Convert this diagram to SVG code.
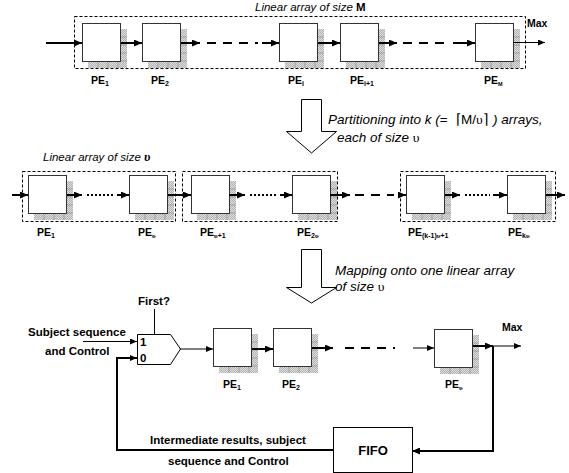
<svg xmlns="http://www.w3.org/2000/svg" xmlns:xlink="http://www.w3.org/1999/xlink" width="569" height="473" viewBox="0 0 569 473">
<style>
text{font-family:"Liberation Sans",Arial,sans-serif;fill:#000}
.lbl{font-weight:bold;font-size:10.5px}
.sub{font-size:7px}
.b{font-weight:bold;font-size:11.5px}
.it{font-style:italic;font-size:13.5px}
.ti{font-style:italic;font-size:11.5px}
.ups{font-family:"Liberation Serif","DejaVu Serif",serif}
.cont{fill:none;stroke:#000;stroke-width:1;stroke-dasharray:3,2}
.th{fill:none;stroke:#000;stroke-width:2}
.tn{fill:none;stroke:#000;stroke-width:1}
.dash{fill:none;stroke:#000;stroke-width:2;stroke-dasharray:9,7}
.dot{fill:none;stroke:#000;stroke-width:2;stroke-dasharray:2,2}
.a{marker-end:url(#ah)}
.as{marker-end:url(#ahs)}
.big{fill:#fff;stroke:#000;stroke-width:1}
</style>
<defs>
<pattern id="dots" width="2" height="2" patternUnits="userSpaceOnUse">
<rect width="2" height="2" fill="#dedede"/>
<rect width="1" height="1" fill="#b2b2b2"/>
<rect x="1" y="1" width="1" height="1" fill="#b2b2b2"/>
</pattern>
<marker id="ah" markerUnits="userSpaceOnUse" markerWidth="8" markerHeight="7" refX="8" refY="3.5" orient="auto">
<path d="M0,0 L8,3.5 L0,7 z" fill="#000"/>
</marker>
<marker id="ahs" markerUnits="userSpaceOnUse" markerWidth="7" markerHeight="6" refX="7" refY="3" orient="auto">
<path d="M0,0 L7,3 L0,6 z" fill="#000"/>
</marker>
<g id="pe">
<path d="M39,6 h6 v39 h-39 v-6 h33 z" fill="url(#dots)"/>
<path d="M39,14h6M39,22h6M39,30h6M39,38h6M16,39v6M26,39v6M36,39v6" stroke="#a0a0a0" stroke-width="1"/>
<rect x="0.5" y="0.5" width="38" height="38" fill="#fff" stroke="#333" stroke-width="1"/>
</g>
</defs>

<!-- Row 1 -->
<g id="row1-title"><text class="ti" x="255" y="11">Linear array of size <tspan font-weight="bold" font-style="normal">M</tspan></text></g>
<g id="row1-container"><rect class="cont" x="74.5" y="16.5" width="451" height="52"/></g>
<g id="r1-pe1"><use xlink:href="#pe" x="82" y="23"/><text class="lbl" x="91" y="84">PE<tspan class="sub" dy="2">1</tspan></text></g>
<g id="r1-pe2"><use xlink:href="#pe" x="142" y="23"/><text class="lbl" x="151" y="84">PE<tspan class="sub" dy="2">2</tspan></text></g>
<g id="r1-pei"><use xlink:href="#pe" x="279" y="23"/><text class="lbl" x="288" y="84">PE<tspan class="sub" dy="2">i</tspan></text></g>
<g id="r1-pei1"><use xlink:href="#pe" x="340" y="23"/><text class="lbl" x="350" y="84">PE<tspan class="sub" dy="2">i+1</tspan></text></g>
<g id="r1-pem"><use xlink:href="#pe" x="475" y="23"/><text class="lbl" x="484" y="84">PE<tspan font-size="5.5px" dy="2">M</tspan></text></g>
<g id="r1-max"><text class="lbl" x="527" y="27" font-size="11px">Max</text></g>

<!-- Row 2 -->
<g id="row2-title"><text class="ti" x="43" y="161" font-size="12px">Linear array of size <tspan class="ups" font-weight="bold" font-size="13px">υ</tspan></text></g>
<g id="row2-containers">
<rect class="cont" x="22.5" y="171.5" width="153" height="50"/>
<rect class="cont" x="182.5" y="171.5" width="155" height="50"/>
<rect class="cont" x="400.5" y="171.5" width="155" height="50"/>
</g>
<g id="r2-pe1"><use xlink:href="#pe" x="28" y="175"/><text class="lbl" x="37" y="236">PE<tspan class="sub" dy="2">1</tspan></text></g>
<g id="r2-peu"><use xlink:href="#pe" x="129" y="175"/><text class="lbl" x="138" y="236">PE<tspan class="sub ups" dy="2" font-weight="bold">υ</tspan></text></g>
<g id="r2-peu1"><use xlink:href="#pe" x="191" y="175"/><text class="lbl" x="200" y="236">PE<tspan class="sub" dy="2"><tspan class="ups">υ</tspan>+1</tspan></text></g>
<g id="r2-pe2u"><use xlink:href="#pe" x="292" y="175"/><text class="lbl" x="297" y="236">PE<tspan class="sub" dy="2">2<tspan class="ups">υ</tspan></tspan></text></g>
<g id="r2-pek1"><use xlink:href="#pe" x="406" y="175"/><text class="lbl" x="408" y="236">PE<tspan class="sub" dy="2">(k-1)<tspan class="ups">υ</tspan>+1</tspan></text></g>
<g id="r2-peku"><use xlink:href="#pe" x="507" y="175"/><text class="lbl" x="508" y="236">PE<tspan class="sub" dy="2">k<tspan class="ups">υ</tspan></tspan></text></g>

<!-- Big arrows and notes -->
<g id="arrow1"><path class="big" d="M301.5,99.5 H321.5 V131.5 H336.5 L311.5,153 L286.5,131.5 H301.5 Z"/></g>
<g id="note1">
<text class="it" x="328" y="124">Partitioning into <tspan>k</tspan> (<tspan font-style="normal">=</tspan><tspan x="456" font-style="normal">⌈M/<tspan class="ups">υ</tspan>⌉</tspan><tspan x="493">) arrays,</tspan></text>
<text class="it" x="337" y="142">each of size <tspan class="ups" font-style="normal">υ</tspan></text>
</g>
<g id="arrow2"><path class="big" d="M301.5,249.5 H321.5 V287.5 H336.5 L311.5,303 L286.5,287.5 H301.5 Z"/></g>
<g id="note2">
<text class="it" x="335" y="275">Mapping onto one linear array</text>
<text class="it" x="335" y="291">of size <tspan class="ups" font-style="normal">υ</tspan></text>
</g>

<!-- Row 3 -->
<g id="first-label"><text class="b" x="138" y="305">First?</text></g>
<g id="mux">
<polygon points="137.5,334.5 170.5,334.5 180.5,349 170.5,364.5 137.5,364.5" fill="#fff" stroke="#000" stroke-width="1"/>
<text class="b" x="140" y="346">1</text>
<text class="b" x="140" y="362">0</text>
</g>
<g id="input-label">
<text class="b" x="28" y="336">Subject sequence</text>
<text class="b" x="45" y="355">and Control</text>
</g>
<g id="r3-pe1"><use xlink:href="#pe" x="213" y="328"/><text class="lbl" x="223" y="388">PE<tspan class="sub" dy="2">1</tspan></text></g>
<g id="r3-pe2"><use xlink:href="#pe" x="273" y="328"/><text class="lbl" x="282" y="388">PE<tspan class="sub" dy="2">2</tspan></text></g>
<g id="r3-peu"><use xlink:href="#pe" x="434" y="329"/><text class="lbl" x="445" y="388">PE<tspan class="sub ups" dy="2">υ</tspan></text></g>
<g id="r3-max"><text class="lbl" x="502" y="331" font-size="11px">Max</text></g>
<g id="fifo">
<rect x="333.5" y="427.5" width="79" height="45" fill="#fff" stroke="#000" stroke-width="1"/>
<text x="373" y="455" font-weight="bold" font-size="13px" text-anchor="middle">FIFO</text>
</g>
<g id="feedback-label">
<text class="b" x="150" y="444">Intermediate results, subject</text>
<text class="b" x="168" y="465">sequence and Control</text>
</g>

<!-- Connectors -->
<g id="connectors">
<!-- row 1 -->
<line class="th a" x1="46" y1="43" x2="82" y2="43"/>
<line class="th a" x1="121" y1="43" x2="142" y2="43"/>
<line class="th a" x1="181" y1="43" x2="200" y2="43"/>
<line class="dash" x1="207" y1="43" x2="258" y2="43"/>
<line class="th a" x1="262" y1="43" x2="279" y2="43"/>
<line class="th a" x1="318" y1="43" x2="340" y2="43"/>
<line class="th a" x1="379" y1="43" x2="397" y2="43"/>
<line class="dash" x1="403" y1="43" x2="447" y2="43"/>
<line class="th a" x1="453" y1="43" x2="475" y2="43"/>
<line class="tn as" x1="513" y1="42.5" x2="545" y2="42.5"/>
<!-- row 2 -->
<line class="th a" x1="12" y1="195" x2="28" y2="195"/>
<line class="th a" x1="67" y1="195" x2="82" y2="195"/>
<line class="dot" x1="87" y1="195" x2="113" y2="195"/>
<line class="th a" x1="117" y1="195" x2="129" y2="195"/>
<line class="th a" x1="168" y1="195" x2="191" y2="195"/>
<line class="th a" x1="229" y1="195" x2="245" y2="195"/>
<line class="dot" x1="250" y1="195" x2="276" y2="195"/>
<line class="th a" x1="280" y1="195" x2="292" y2="195"/>
<line class="th a" x1="330" y1="195" x2="350" y2="195"/>
<line class="dash" x1="355" y1="195" x2="394" y2="195"/>
<line class="th a" x1="398" y1="195" x2="406" y2="195"/>
<line class="th a" x1="445" y1="195" x2="460" y2="195"/>
<line class="dot" x1="465" y1="195" x2="490" y2="195"/>
<line class="th a" x1="493" y1="195" x2="507" y2="195"/>
<line class="th a" x1="546" y1="195" x2="565" y2="195"/>
<!-- row 3 -->
<line class="tn" x1="154.5" y1="309" x2="154.5" y2="334"/>
<line class="tn as" x1="83" y1="341.5" x2="137" y2="341.5" stroke-width="1.5"/>
<polyline class="th as" points="117,450 117,358 137,358"/>
<line class="th" x1="116" y1="450" x2="333" y2="450"/>
<line class="tn as" x1="180" y1="349" x2="213" y2="349" stroke-width="1.2"/>
<line class="th a" x1="252" y1="349" x2="273" y2="349"/>
<line class="th a" x1="312" y1="348" x2="333" y2="348"/>
<line class="dash" x1="345" y1="348" x2="395" y2="348" stroke-dasharray="8,6"/>
<line class="tn as" x1="413" y1="348" x2="434" y2="348" stroke-width="1.5"/>
<line class="th a" x1="473" y1="346" x2="493" y2="346"/>
<line class="tn as" x1="493" y1="346" x2="521" y2="346"/>
<polyline class="th a" points="493,346 493,451 412,451"/>
</g>
</svg>
